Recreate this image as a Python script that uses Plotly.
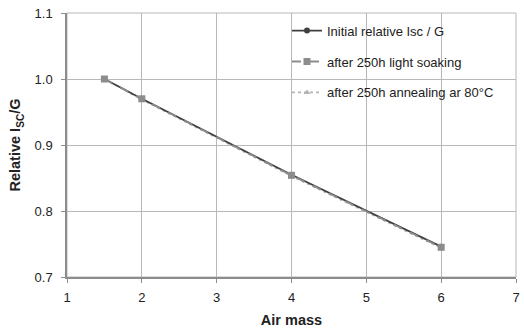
import plotly.graph_objects as go

air_mass = [1.5, 2, 4, 6]
initial = [1.0, 0.970, 0.855, 0.746]
light_soak = [1.0, 0.970, 0.854, 0.745]
annealing = [1.0, 0.969, 0.853, 0.744]
names = ["Initial relative Isc / G", "after 250h light soaking", "after 250h annealing ar 80\u00b0C"]

fig = go.Figure()
fig.add_trace(go.Scatter(x=air_mass, y=annealing, name=names[2], mode="lines+markers",
                         line=dict(color="#b4b4b4", width=1.8, dash="dot"),
                         marker=dict(symbol="triangle-up", size=6, color="#b4b4b4"),
                         legendrank=3, legendgroup="c"))
fig.add_trace(go.Scatter(x=air_mass, y=initial, name=names[0], mode="lines+markers",
                         line=dict(color="#404040", width=1.8),
                         marker=dict(symbol="circle", size=6, color="#404040"),
                         legendrank=1, legendgroup="a"))
fig.add_trace(go.Scatter(x=air_mass, y=light_soak, name=names[1], mode="lines+markers",
                         line=dict(color="#8c8c8c", width=1.8, dash="dash"),
                         marker=dict(symbol="square", size=7, color="#8c8c8c"),
                         legendrank=2, legendgroup="b"))

fig.update_layout(
    width=524, height=335,
    margin=dict(l=67, r=4, t=13, b=58),
    paper_bgcolor="white", plot_bgcolor="white",
    font=dict(family="Liberation Sans, Arial, sans-serif", size=13, color="#222222"),
    showlegend=True,
    legend=dict(x=0.49, y=0.99, xanchor="left", yanchor="top", bgcolor="rgba(0,0,0,0)",
                font=dict(size=13, color="#222222"), tracegroupgap=11,
                borderwidth=0),
    xaxis=dict(range=[1, 7], dtick=1, tick0=1, showgrid=True, gridcolor="#b8b8b8", gridwidth=1,
               showline=True, linecolor="#8c8c8c", linewidth=1.5, mirror=False,
               ticks="outside", ticklen=4, tickcolor="#8c8c8c", zeroline=False,
               ticklabelstandoff=4,
               title=dict(text="<b>Air mass</b>", font=dict(size=14.5), standoff=11)),
    yaxis=dict(range=[0.7, 1.1], dtick=0.1, tickformat=".1f", showgrid=True, gridcolor="#b8b8b8",
               showline=True, linecolor="#8c8c8c", linewidth=1.5,
               ticks="outside", ticklen=4, tickcolor="#8c8c8c", zeroline=False,
               ticklabelstandoff=6,
               title=dict(text="<b>Relative I<sub>SC</sub>/G</b>", font=dict(size=14.5), standoff=10)),
    shapes=[dict(type="rect", xref="paper", yref="paper", x0=0, x1=1, y0=0, y1=1,
                 line=dict(color="#b8b8b8", width=1), layer="below"),
            dict(type="rect", xref="paper", yref="paper", x0=0.453, x1=0.995, y0=0.64, y1=0.99,
                 fillcolor="white", line=dict(width=0), layer="between")],
)
fig.write_html("out.html")
